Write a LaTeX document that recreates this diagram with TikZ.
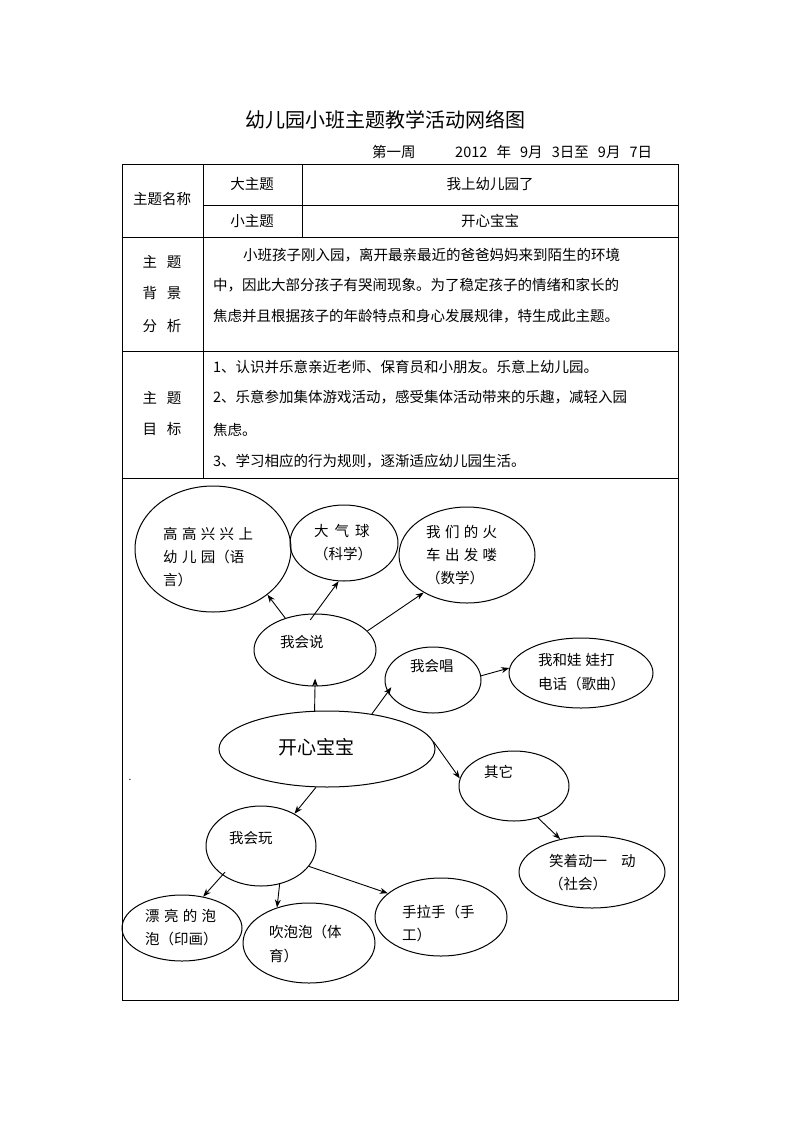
\documentclass[tikz,border=0pt]{standalone}
\usepackage{fontspec}
\setmainfont{Noto Sans CJK SC}
\newfontfamily\lsfont[LetterSpace=30]{Noto Sans CJK SC}
\newfontfamily\plainfont{Noto Sans CJK SC}
\usetikzlibrary{shapes.geometric,arrows.meta}
\begin{document}
\begin{tikzpicture}[x=1pt,y=-1pt,
  tline/.style={line width=0.8pt},
  bub/.style={draw,ellipse,line width=1pt,inner sep=0pt},
  txt/.style={inner sep=0pt,anchor=west,font=\fontsize{14.5}{17}\selectfont},
  ctxt/.style={inner sep=0pt,font=\fontsize{14.5}{17}\selectfont},
  stxt/.style={inner sep=0pt,anchor=west,align=left,font=\fontsize{14.5}{23}\lsfont},
  arr/.style={-{Stealth[length=8pt,width=6pt]},line width=0.9pt}]
\useasboundingbox (0,0) rectangle (800,1133);
% title
\node[inner sep=0pt,font=\fontsize{20}{24}\selectfont] (title) at (385,120) {幼儿园小班主题教学活动网络图};
\node[txt] (week) at (372,152) {第一周};
\node[txt] (date) at (455,152) {\makebox[197pt][s]{2012 年 9月 3日至 9月 7日}};
% table
\draw[tline] (122,164) rectangle (678,1000);
\draw[tline] (203,205) -- (678,205);
\draw[tline] (122,237) -- (678,237);
\draw[tline] (122,351) -- (678,351);
\draw[tline] (122,478) -- (678,478);
\draw[tline] (203,164) -- (203,478);
\draw[tline] (302,164) -- (302,237);
\node[ctxt] (c1) at (162,199) {主题名称};
\node[ctxt] (c2) at (252,184) {大主题};
\node[ctxt] (c3) at (490,184) {我上幼儿园了};
\node[ctxt] (c4) at (252,221) {小主题};
\node[ctxt] (c5) at (490,221) {开心宝宝};
\node[ctxt] (b1) at (162,262) {主\hspace{10pt}题};
\node[ctxt] (b2) at (162,293) {背\hspace{10pt}景};
\node[ctxt] (b3) at (162,326) {分\hspace{10pt}析};
\node[txt] (l1) at (243,255) {小班孩子刚入园，离开最亲最近的爸爸妈妈来到陌生的环境};
\node[txt] (l2) at (213,285) {中，因此大部分孩子有哭闹现象。为了稳定孩子的情绪和家长的};
\node[txt] (l3) at (213,316) {焦虑并且根据孩子的年龄特点和身心发展规律，特生成此主题。};
\node[ctxt] (g1) at (162,398) {主\hspace{10pt}题};
\node[ctxt] (g2) at (162,429) {目\hspace{10pt}标};
\node[txt] (m1) at (213,367) {1、认识并乐意亲近老师、保育员和小朋友。乐意上幼儿园。};
\node[txt] (m2) at (213,397) {2、乐意参加集体游戏活动，感受集体活动带来的乐趣，减轻入园};
\node[txt] (m3) at (213,430) {焦虑。};
\node[txt] (m4) at (213,461) {3、学习相应的行为规则，逐渐适应幼儿园生活。};
% bubbles
\node[bub,minimum width=156pt,minimum height=126pt] (gao) at (213,549) {};
\node[bub,minimum width=108pt,minimum height=76pt] (qiqiu) at (344,543) {};
\node[bub,minimum width=136pt,minimum height=96pt] (huoche) at (467,555) {};
\node[bub,minimum width=122pt,minimum height=72pt] (shuo) at (315,650) {};
\node[bub,minimum width=96pt,minimum height=66pt] (chang) at (433,680) {};
\node[bub,minimum width=144pt,minimum height=70pt] (wawa) at (581,673) {};
\node[bub,minimum width=216pt,minimum height=76pt] (kaixin) at (327,749) {};
\node[bub,minimum width=110pt,minimum height=70pt] (qita) at (514,786) {};
\node[bub,minimum width=110pt,minimum height=80pt] (wan) at (261,846) {};
\node[bub,minimum width=146pt,minimum height=72pt] (xiao) at (592,872) {};
\node[bub,minimum width=120pt,minimum height=66pt] (piao) at (182,928) {};
\node[bub,minimum width=132pt,minimum height=80pt] (chui) at (309,943) {};
\node[bub,minimum width=132pt,minimum height=78pt] (shou) at (441,917) {};
% bubble texts
\node[stxt] (tgao) at (163,557) {高高兴兴上\\幼儿园{\plainfont （}语\\言{\plainfont ）}};
\node[stxt] (tqiqiu) at (314,543) {大\hspace{6pt}气\hspace{6pt}球\\{\plainfont （科学）}};
\node[stxt] (thuoche) at (426,555) {我们的火\\车出发喽\\{\plainfont （数学）}};
\node[txt] (tshuo) at (280,642) {我会说};
\node[txt] (tchang) at (410,666) {我会唱};
\node[txt,align=left,font=\fontsize{14.5}{24}\selectfont] (twawa) at (538,672) {我和娃\hspace{4pt}娃打\\电话（歌曲）};
\node[inner sep=0pt,anchor=west,font=\fontsize{19}{22}\selectfont] (tkaixin) at (278,747) {开心宝宝};
\node[txt] (tqita) at (484,772) {其它};
\node[txt] (twan) at (229,838) {我会玩};
\node[txt,align=left,font=\fontsize{14.5}{23}\selectfont] (txiao) at (549,873) {笑着动一\hspace{14pt}动\\（社会）};
\node[stxt] (tpiao) at (145,928) {漂亮的泡\\{\plainfont 泡（印画）}};
\node[txt,align=left,font=\fontsize{14.5}{24}\selectfont] (tchui) at (269,944) {吹泡泡（体\\育）};
\node[txt,align=left,font=\fontsize{14.5}{23}\selectfont] (tshou) at (402,923) {手拉手（手\\工）};
\node[inner sep=0pt] (dot) at (130,780) {.};
% arrows
\draw[arr] (shuo.133) -- (gao.-40);
\draw[arr,shorten <=-8pt] (shuo.90) -- (qiqiu.-98);
\draw[arr] (shuo.20) -- (huoche.-139);
\draw[arr,shorten >=-8pt] (kaixin.108) -- (shuo.-90);
\draw[arr,shorten >=-6pt] (kaixin.38) -- (chang.-165);
\draw[arr] (chang.5) -- (wawa.176);
\draw[arr] (kaixin.4) -- (qita.172);
\draw[arr] (qita.-53) -- (xiao.134);
\draw[arr] (kaixin.-106) -- (wan.44);
\draw[arr,shorten <=-4pt] (wan.-143) -- (piao.56);
\draw[arr] (wan.-64) -- (chui.132);
\draw[arr] (wan.-23) -- (shou.156);
\end{tikzpicture}
\end{document}
